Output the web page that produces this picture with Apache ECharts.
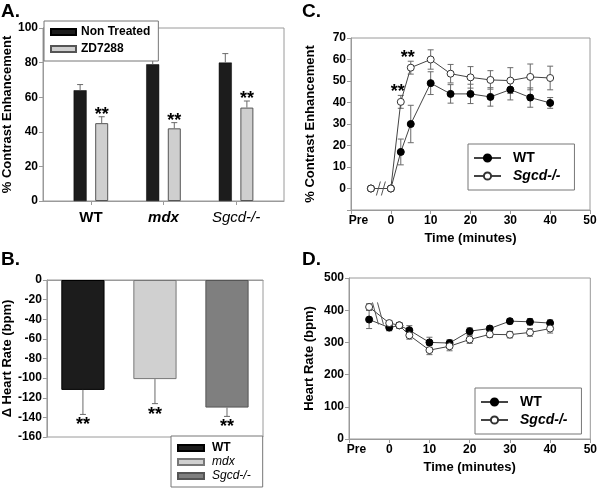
<!DOCTYPE html>
<html><head><meta charset="utf-8">
<script src="https://cdn.jsdelivr.net/npm/echarts@6/dist/echarts.min.js"></script>
<style>html,body{margin:0;padding:0;background:#fff}#c{width:600px;height:492px}</style>
</head><body><div id="c"></div>
<script>
const FONT = '"Liberation Sans", Arial, sans-serif';

// ---------- Panel A ----------
const aGroups = ['WT', 'mdx', 'Sgcd-/-'];
const aGroupPos = [1, 2, 3];
const aNonTreated = [64, 79, 80];
const aNonTreatedErr = [3.3, 3.7, 5.2];
const aZD = [45, 42, 54];
const aZDErr = [3.7, 3.3, 3.8];
const aSig = ['**', '**', '**'];
const aYTicks = [0, 20, 40, 60, 80, 100];

// ---------- Panel B ----------
const bGroups = ['WT', 'mdx', 'Sgcd-/-'];
const bDelta = [-112, -101, -130];
const bErr = [25, 25, 9];
const bSig = ['**', '**', '**'];

// ---------- Panels C & D ----------
const timePoints = [-5, 0, 2.5, 5, 10, 15, 20, 25, 30, 35, 40];
const timeTickLabels = ['Pre', '0', '10', '20', '30', '40', '50'];
const cWT = [0, 0, 17, 30, 49, 44, 44, 42.6, 46, 42.3, 39.8];
const cWTErr = [0, 0, 6, 8.7, 5.3, 4.3, 4.5, 4.3, 4.8, 4.5, 2.5];
const cSgcd = [0, 0, 40.3, 56.2, 60, 53.4, 51.7, 50.5, 50.2, 51.9, 51.4];
const cSgcdErr = [0, 0, 3, 3, 4.5, 4.3, 5, 4.3, 6, 6, 5.5];
const cSig = ['', '', '**', '**', '', '', '', '', '', '', ''];
const cBreak = [-2.5, 0];
const dWT = [371, 346, 353, 338, 300, 298, 335, 343, 366, 364, 360];
const dWTErr = [28, 10, 8, 14, 16, 10, 10, 8, 8, 10, 10];
const dSgcd = [410, 360, 353, 322, 276, 288, 309, 325, 324, 331, 343];
const dSgcdErr = [10, 8, 8, 12, 14, 14, 12, 10, 10, 12, 14];
const dBreak = [-2.8, 390];

const GRAY = '#9a9a9a';
const ERR = '#6a6a6a';
const BAR_W = 13, BAR_GAP = 0.66;
const BAR_OFF = (BAR_W + BAR_W * BAR_GAP) / 2;

function axisCommon() {
  return {
    axisLine: { show: true, onZero: false, lineStyle: { color: GRAY, width: 1 } },
    axisTick: { show: true, length: 4, lineStyle: { color: GRAY } },
    splitLine: { show: false },
    axisLabel: { color: '#000', fontFamily: FONT, fontWeight: 'bold', fontSize: 12, margin: 5 }
  };
}
function nameStyle() { return { color: '#000', fontFamily: FONT, fontWeight: 'bold', fontSize: 13 }; }

function errSeries(gi, xs, ys, es, opts) {
  return {
    type: 'custom', xAxisIndex: gi, yAxisIndex: gi, z: opts.z || 1, silent: true,
    data: xs.map((x, i) => [x, ys[i], es[i]]),
    renderItem: function (params, api) {
      const x = api.value(0), y = api.value(1), e = api.value(2);
      const sig = opts.sig ? opts.sig[params.dataIndex] : '';
      const off = opts.off || 0;
      const children = [];
      const pc = api.coord([x, y]);
      const cx = pc[0] + off;
      const ends = [];
      if (opts.up) ends.push(api.coord([x, y + e])[1]);
      if (opts.down) ends.push(api.coord([x, y - e])[1]);
      if (e > 0) {
        ends.forEach(ey => {
          children.push({ type: 'line', shape: { x1: cx, y1: pc[1], x2: cx, y2: ey }, style: { stroke: ERR, lineWidth: 1 } });
          children.push({ type: 'line', shape: { x1: cx - opts.cap, y1: ey, x2: cx + opts.cap, y2: ey }, style: { stroke: ERR, lineWidth: 1 } });
        });
      }
      if (sig) {
        const sy = opts.sigBelow ? api.coord([x, y - e])[1] : api.coord([x, y + e])[1];
        children.push({ type: 'text', x: cx + (opts.sigDx || 0), y: sy + (opts.sigDy || 0),
          style: { text: sig, font: 'bold 18px ' + FONT, fill: '#000', align: 'center', verticalAlign: 'middle' } });
      }
      return { type: 'group', children: children };
    }
  };
}

// break marks: two parallel slanted strokes; slope sign chooses "/" (1) or "\" (-1)
function breakSeries(gi, pt, h, w, gap, slope) {
  return {
    type: 'custom', xAxisIndex: gi, yAxisIndex: gi, z: 5, silent: true,
    data: [pt],
    renderItem: function (params, api) {
      const p = api.coord([api.value(0), api.value(1)]);
      return { type: 'group', children: [-gap / 2, gap / 2].map(dx => ({
        type: 'line',
        shape: { x1: p[0] + dx - w, y1: p[1] + h * slope, x2: p[0] + dx + w, y2: p[1] - h * slope },
        style: { stroke: '#555', lineWidth: 1 } })) };
    }
  };
}

const legendBase = {
  orient: 'vertical', selectedMode: false, borderColor: '#777', borderWidth: 1, backgroundColor: '#fff',
  textStyle: { color: '#000', fontFamily: FONT, fontWeight: 'bold', fontSize: 12 }
};

const timeFmt = v => v === -10 ? '{pre|' + timeTickLabels[0] + '}' : String(v);
const timeRich = { pre: { fontFamily: FONT, fontWeight: 'bold', fontSize: 12, padding: [0, 0, 0, 15] } };

function lineLegend(names, left, top) {
  return Object.assign({}, legendBase, {
    data: names, left: left, top: top, itemWidth: 27, itemHeight: 9, itemGap: 4,
    padding: [7, 14, 7, 5],
    formatter: n => n === names[0] ? '{b|WT}' : '{i|Sgcd-/-}',
    textStyle: { color: '#000', fontFamily: FONT, fontSize: 13, rich: {
      b: { fontFamily: FONT, fontWeight: 'bold', fontSize: 14, padding: [0, 0, 0, 7] },
      i: { fontFamily: FONT, fontWeight: 'bold', fontStyle: 'italic', fontSize: 14, padding: [0, 0, 0, 7] } } }
  });
}

const option = {
  animation: false,
  backgroundColor: '#fff',
  title: [
    { text: 'A.', left: 1, top: 2 },
    { text: 'B.', left: 1, top: 250 },
    { text: 'C.', left: 302, top: 2 },
    { text: 'D.', left: 302, top: 250 }
  ].map(t => Object.assign(t, { padding: 0, textStyle: { fontFamily: FONT, fontWeight: 'bold', fontSize: 19, color: '#000' } })),
  grid: [
    { left: 43, top: 28, width: 241, height: 173 },
    { left: 44, top: 280, width: 219, height: 157 },
    { left: 351, top: 38, width: 239, height: 172 },
    { left: 349, top: 278, width: 244, height: 161 }
  ].map(g => Object.assign(g, { show: true, borderColor: GRAY, borderWidth: 1, containLabel: false })),
  legend: [
    Object.assign({}, legendBase, {
      data: ['Non Treated', 'ZD7288'], left: 44, top: 21, itemWidth: 25, itemHeight: 6, itemGap: 5,
      padding: [5, 8, 6, 6], icon: 'rect'
    }),
    Object.assign({}, legendBase, {
      data: bGroups, left: 171, top: 436, itemWidth: 26, itemHeight: 6, itemGap: 2,
      padding: [6, 12, 5, 6], icon: 'rect',
      formatter: n => n === 'WT' ? '{b|WT}' : '{i|' + n + '}',
      textStyle: { color: '#000', fontFamily: FONT, fontSize: 12, rich: {
        b: { fontFamily: FONT, fontWeight: 'bold', fontSize: 12, padding: [0, 0, 0, 3] },
        i: { fontFamily: FONT, fontStyle: 'italic', fontSize: 12, padding: [0, 0, 0, 3] } } }
    }),
    lineLegend(['WT C', 'Sgcd-/- C'], 468, 144),
    lineLegend(['WT D', 'Sgcd-/- D'], 475, 388)
  ],
  xAxis: [
    Object.assign(axisCommon(), {
      gridIndex: 0, type: 'value', min: 0.34, max: 3.66,
      axisTick: { show: true, length: 4, lineStyle: { color: GRAY }, customValues: aGroupPos },
      axisLabel: { customValues: aGroupPos, margin: 9,
        formatter: v => { const g = aGroups[aGroupPos.indexOf(v)]; return g === 'WT' ? '{b|WT}' : g === 'mdx' ? '{bi|mdx}' : '{i|' + g + '}'; },
        rich: {
          b: { fontFamily: FONT, fontWeight: 'bold', fontSize: 15, color: '#000' },
          bi: { fontFamily: FONT, fontWeight: 'bold', fontStyle: 'italic', fontSize: 15, color: '#000' },
          i: { fontFamily: FONT, fontStyle: 'italic', fontSize: 15, color: '#000' } } }
    }),
    Object.assign(axisCommon(), {
      gridIndex: 1, type: 'category', data: bGroups,
      axisTick: { show: false }, axisLabel: { show: false },
      axisLine: { show: true, onZero: true, lineStyle: { color: GRAY } }
    }),
    Object.assign(axisCommon(), {
      gridIndex: 2, type: 'value', min: -10, max: 50, interval: 10,
      name: 'Time (minutes)', nameLocation: 'middle', nameGap: 22, nameTextStyle: nameStyle()
    }),
    Object.assign(axisCommon(), {
      gridIndex: 3, type: 'value', min: -10, max: 50, interval: 10,
      name: 'Time (minutes)', nameLocation: 'middle', nameGap: 22, nameTextStyle: nameStyle()
    })
  ],
  yAxis: [
    Object.assign(axisCommon(), {
      gridIndex: 0, type: 'value', min: aYTicks[0], max: aYTicks[aYTicks.length - 1], interval: 20,
      name: '% Contrast Enhancement', nameLocation: 'middle', nameGap: 29, nameTextStyle: nameStyle()
    }),
    Object.assign(axisCommon(), {
      gridIndex: 1, type: 'value', min: -160, max: 0, interval: 20,
      name: '\u0394 Heart Rate (bpm)', nameLocation: 'middle', nameGap: 27, nameTextStyle: nameStyle()
    }),
    Object.assign(axisCommon(), {
      gridIndex: 2, type: 'value', min: -10, max: 70, interval: 10,
      name: '% Contrast Enhancement', nameLocation: 'middle', nameGap: 34, nameTextStyle: nameStyle()
    }),
    Object.assign(axisCommon(), {
      gridIndex: 3, type: 'value', min: 0, max: 500, interval: 100,
      name: 'Heart Rate (bpm)', nameLocation: 'middle', nameGap: 33, nameTextStyle: nameStyle()
    })
  ],
  series: []
};

option.xAxis[2].axisLabel.formatter = timeFmt;
option.xAxis[2].axisLabel.rich = timeRich;
option.xAxis[3].axisLabel.formatter = timeFmt;
option.xAxis[3].axisLabel.rich = timeRich;
option.yAxis[2].axisLabel.formatter = v => v < 0 ? '' : String(v);

// Panel A bars
option.series.push({
  type: 'bar', name: 'Non Treated', xAxisIndex: 0, yAxisIndex: 0, barWidth: BAR_W, barGap: (BAR_GAP * 100) + '%',
  data: aGroupPos.map((p, i) => [p, aNonTreated[i]]),
  itemStyle: { color: '#1c1c1c', borderColor: '#000', borderWidth: 0.5 }
});
option.series.push({
  type: 'bar', name: 'ZD7288', xAxisIndex: 0, yAxisIndex: 0, barWidth: BAR_W, barGap: (BAR_GAP * 100) + '%',
  data: aGroupPos.map((p, i) => [p, aZD[i]]),
  itemStyle: { color: '#cfcfcf', borderColor: '#555', borderWidth: 1 }
});
option.series.push(errSeries(0, aGroupPos, aNonTreated, aNonTreatedErr, { off: -BAR_OFF, up: true, cap: 3, z: 3 }));
option.series.push(errSeries(0, aGroupPos, aZD, aZDErr, { off: BAR_OFF, up: true, cap: 3, z: 3, sig: aSig, sigDy: -2 }));

// Panel B bars
const bColors = ['#1c1c1c', '#d0d0d0', '#7f7f7f'];
const bBorders = ['#000', '#777', '#555'];
bGroups.forEach((g, k) => {
  option.series.push({
    type: 'bar', name: g, xAxisIndex: 1, yAxisIndex: 1, barWidth: '60%', barGap: '-100%',
    data: bDelta.map((v, i) => i === k ? v : '-'),
    itemStyle: { color: bColors[k], borderColor: bBorders[k], borderWidth: 1 }
  });
});
option.series.push(errSeries(1, bGroups.map((g, i) => i), bDelta, bErr, { down: true, cap: 3, z: 3, sig: bSig, sigBelow: true, sigDy: 11 }));

// Panels C & D
function lineSeries(gi, name, ys, filled) {
  return {
    type: 'line', name: name, xAxisIndex: gi, yAxisIndex: gi, z: filled ? 3 : 4,
    data: timePoints.map((t, i) => [t, ys[i]]),
    symbol: 'circle', symbolSize: 7, showSymbol: true,
    lineStyle: { color: '#444', width: 1 },
    itemStyle: filled ? { color: '#000', borderColor: '#000', borderWidth: 1 } : { color: '#fff', borderColor: '#333', borderWidth: 1 }
  };
}
option.series.push(errSeries(2, timePoints, cWT, cWTErr, { up: true, down: true, cap: 3, z: 2 }));
option.series.push(errSeries(2, timePoints, cSgcd, cSgcdErr, { up: true, down: true, cap: 3, z: 2, sig: cSig, sigDx: -3, sigDy: -3 }));
option.series.push(lineSeries(2, 'WT C', cWT, true));
option.series.push(lineSeries(2, 'Sgcd-/- C', cSgcd, false));
option.series.push(breakSeries(2, cBreak, 7, 2, 5, 1));

option.series.push(errSeries(3, timePoints, dWT, dWTErr, { up: true, down: true, cap: 3, z: 2 }));
option.series.push(errSeries(3, timePoints, dSgcd, dSgcdErr, { up: true, down: true, cap: 3, z: 2 }));
option.series.push(lineSeries(3, 'WT D', dWT, true));
option.series.push(lineSeries(3, 'Sgcd-/- D', dSgcd, false));
option.series.push(breakSeries(3, dBreak, 11, 3, 5, -1));

const chart = echarts.init(document.getElementById('c'), null, { renderer: 'canvas' });
chart.setOption(option);
</script>
</body></html>
